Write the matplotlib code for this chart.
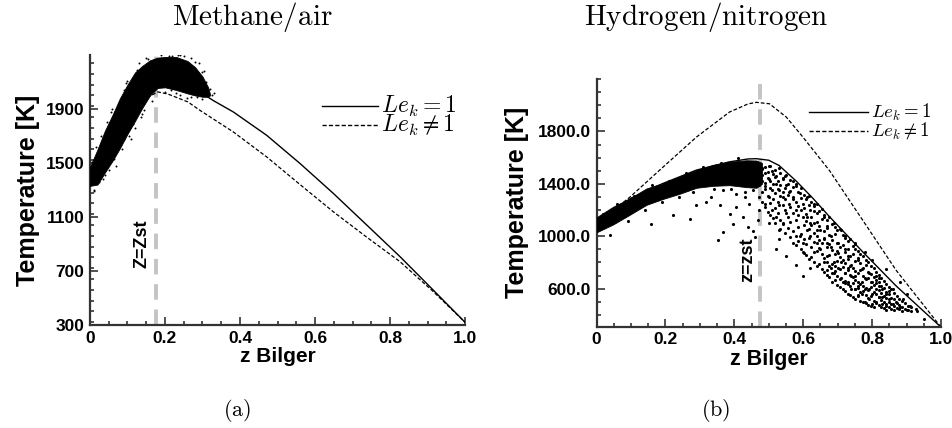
import numpy as np
import matplotlib
matplotlib.use("Agg")
import matplotlib.pyplot as plt
from matplotlib.lines import Line2D
from matplotlib.ticker import MultipleLocator

plt.rcParams['font.family'] = ['Liberation Sans', 'DejaVu Sans']
plt.rcParams['mathtext.fontset'] = 'cm'

# ---------------- methane/air data ----------------
ch4_z_le1 = [0.0, 0.05, 0.10, 0.15, 0.19, 0.22, 0.26, 0.293, 0.33, 0.382, 0.471, 0.56, 0.649, 0.738, 0.827, 0.915, 1.0]
ch4_T_le1 = [1400, 1640, 1870, 2060, 2140, 2150, 2110, 2026, 1960, 1878, 1705, 1496, 1274, 1040, 805, 559, 320]
ch4_z_le = [0.0, 0.05, 0.10, 0.15, 0.181, 0.208, 0.261, 0.293, 0.382, 0.471, 0.56, 0.649, 0.738, 0.827, 0.915, 1.0]
ch4_T_le = [1400, 1620, 1830, 1980, 2026, 2010, 1952, 1890, 1730, 1545, 1340, 1138, 950, 768, 548, 320]

# scatter band edges
ch4_band_z = [0.0, 0.02, 0.04, 0.06, 0.08, 0.10, 0.12, 0.14, 0.16, 0.18, 0.20, 0.23, 0.26, 0.28, 0.30, 0.315, 0.32]
ch4_band_lo = [1330, 1340, 1430, 1515, 1610, 1715, 1810, 1910, 2000, 2055, 2060, 2040, 2015, 2000, 1990, 1990, 2000]
ch4_band_hi = [1470, 1600, 1740, 1855, 1980, 2080, 2170, 2220, 2260, 2280, 2285, 2285, 2255, 2210, 2140, 2060, 2010]
ch4_dots_z = [0.03, 0.06, 0.09, 0.11, 0.13, 0.15, 0.24, 0.27, 0.29, 0.31, 0.30, 0.24, 0.27, 0.20, 0.05, 0.07,
              0.12, 0.14, 0.02, 0.01, 0.035, 0.19, 0.22, 0.25, 0.28, 0.17, 0.33, 0.32, 0.045, 0.085,
              0.015, 0.025, 0.055, 0.075, 0.095, 0.105, 0.125, 0.145, 0.165, 0.215, 0.235, 0.255, 0.285, 0.305,
              0.31, 0.325, 0.10, 0.065, 0.115, 0.135, 0.155, 0.005, 0.012, 0.04, 0.09, 0.26, 0.30, 0.23, 0.21]
ch4_dots_T = [1700, 1900, 2040, 1680, 2240, 2275, 2300, 2275, 2240, 2100, 2170, 2000, 1985, 2025, 1450, 1480,
              1760, 1860, 1550, 1300, 1380, 2300, 2295, 2290, 2250, 2040, 2020, 2050, 1800, 1600,
              1620, 1360, 1880, 1620, 2090, 1700, 2190, 1890, 1960, 2040, 2300, 2030, 1990, 2180,
              2050, 2000, 2110, 1530, 1790, 1840, 2270, 1510, 1290, 1410, 1680, 1980, 1975, 2020, 2290]

# ---------------- hydrogen/nitrogen data ----------------
h2_z_le1 = [0.0, 0.05, 0.10, 0.19, 0.29, 0.386, 0.44, 0.464, 0.50, 0.53, 0.58, 0.628, 0.676, 0.773, 0.87, 1.0]
h2_T_le1 = [1090, 1200, 1290, 1400, 1505, 1568, 1590, 1592, 1580, 1540, 1420, 1290, 1150, 880, 620, 306]
h2_z_le = [0.0, 0.048, 0.097, 0.193, 0.29, 0.386, 0.44, 0.464, 0.502, 0.551, 0.599, 0.676, 0.773, 0.87, 1.0]
h2_T_le = [1095, 1197, 1299, 1528, 1757, 1948, 2010, 2022, 2011, 1909, 1757, 1502, 1121, 739, 306]

h2_band_z = [0.0, 0.048, 0.097, 0.145, 0.193, 0.242, 0.29, 0.338, 0.386, 0.435, 0.464, 0.48]
h2_band_lo = [1030, 1090, 1165, 1240, 1285, 1325, 1370, 1385, 1390, 1375, 1370, 1400]
h2_band_hi = [1145, 1225, 1290, 1365, 1405, 1455, 1505, 1545, 1568, 1580, 1578, 1560]

# cloud past z_st, read column by column
h2_col_z = [0.472, 0.481, 0.489, 0.497, 0.504, 0.512, 0.519, 0.527, 0.533, 0.541, 0.548, 0.556, 0.563,
            0.571, 0.578, 0.586, 0.593, 0.601, 0.608, 0.616, 0.623, 0.631, 0.639, 0.646, 0.654, 0.661,
            0.669, 0.676, 0.684, 0.691, 0.699, 0.706, 0.714, 0.721, 0.729, 0.736, 0.744, 0.751, 0.759,
            0.766, 0.774, 0.781, 0.789, 0.796, 0.804, 0.811, 0.819, 0.826, 0.834, 0.841, 0.849, 0.856,
            0.864, 0.871, 0.879, 0.887, 0.896, 0.905, 0.914, 0.926]
h2_col_T = [
    [1545, 1432, 1388, 1296], [1512, 1467, 1340, 1262], [1528, 1405, 1358, 1225],
    [1490, 1446, 1310, 1188], [1538, 1418, 1372, 1251, 1163], [1473, 1396, 1283, 1140],
    [1507, 1452, 1331, 1214, 1098], [1421, 1359, 1262, 1175], [1486, 1390, 1305, 1126, 1052],
    [1443, 1337, 1238, 1092], [1461, 1372, 1284, 1197, 1025], [1402, 1316, 1150, 1066],
    [1428, 1349, 1226, 1108, 996], [1375, 1288, 1181, 1040], [1398, 1262, 1127, 1003, 935],
    [1341, 1233, 1160, 1071, 962], [1365, 1290, 1198, 1014, 903], [1312, 1215, 1089, 976, 870],
    [1286, 1172, 1120, 941, 854], [1304, 1241, 1055, 990, 826], [1258, 1148, 1087, 921, 845],
    [1231, 1196, 1026, 958, 801], [1245, 1112, 1004, 887, 772], [1192, 1079, 972, 910, 790],
    [1207, 1135, 947, 862, 748], [1166, 1041, 990, 833, 725], [1123, 1062, 918, 807, 741, 701],
    [1145, 1008, 941, 855, 774, 688], [1094, 975, 896, 792, 716, 652], [1071, 1017, 863, 771, 735, 669],
    [1046, 952, 884, 808, 699, 631], [1058, 917, 840, 753, 676, 612], [1012, 934, 819, 765, 648, 598],
    [989, 881, 797, 720, 661, 579], [961, 902, 828, 742, 634, 562], [978, 849, 776, 701, 617, 551],
    [925, 866, 758, 688, 642, 538], [942, 812, 733, 667, 596, 524], [891, 835, 717, 651, 608, 545],
    [866, 794, 746, 633, 571, 507], [847, 760, 694, 622, 583, 499], [819, 778, 671, 604, 552, 488],
    [802, 731, 685, 590, 531, 476], [771, 715, 652, 613, 547, 468], [756, 689, 627, 573, 509, 461],
    [728, 663, 641, 556, 494], [703, 649, 588, 537, 472], [684, 618, 569, 515, 458],
    [659, 602, 543, 497, 449], [638, 577, 528, 481, 441], [611, 556, 502, 463],
    [594, 531, 486, 447], [566, 518, 471, 438], [548, 494, 456], [521, 477, 443],
    [503, 462, 432], [488, 446], [471, 437], [458, 429], [447]]

h2_dots_z = [
    0.159, 0.222, 0.271, 0.353, 0.367, 0.319, 0.333, 0.357, 0.386, 0.396, 0.406, 0.425, 0.44, 0.454, 0.444,
    0.454, 0.43, 0.406, 0.29, 0.367, 0.459, 0.469, 0.473,
    0.48, 0.49, 0.50, 0.50, 0.51, 0.52, 0.52, 0.53, 0.53, 0.54, 0.54, 0.55, 0.55, 0.56, 0.56, 0.57, 0.57, 0.58,
    0.58, 0.49, 0.50, 0.51, 0.48, 0.47, 0.49, 0.51, 0.52, 0.53, 0.54, 0.55, 0.50, 0.53,
    0.52, 0.55, 0.58, 0.60, 0.57, 0.62, 0.53, 0.60,
    0.59, 0.60, 0.60, 0.61, 0.61, 0.62, 0.62, 0.63, 0.63, 0.64, 0.64, 0.65, 0.65, 0.66, 0.66, 0.67, 0.67, 0.68,
    0.68, 0.69, 0.69, 0.70, 0.70, 0.71, 0.59, 0.60, 0.62, 0.63, 0.66, 0.61, 0.64, 0.67,
    0.71, 0.72, 0.72, 0.73, 0.73, 0.74, 0.74, 0.75, 0.75, 0.76, 0.76, 0.77, 0.77, 0.78, 0.78, 0.79, 0.79, 0.80,
    0.80, 0.81, 0.81, 0.82, 0.82, 0.83, 0.83, 0.84, 0.84, 0.85, 0.86, 0.86, 0.87, 0.88, 0.89, 0.90, 0.91, 0.93,
    0.95, 0.70, 0.72, 0.74, 0.76, 0.78, 0.80, 0.82, 0.75, 0.77, 0.79, 0.81, 0.83, 0.85, 0.73, 0.71, 0.69, 0.68,
    0.72, 0.75, 0.78, 0.80, 0.84, 0.88, 0.90,
    0.02, 0.06, 0.11, 0.16, 0.21, 0.26, 0.31, 0.36, 0.41, 0.04, 0.09, 0.14, 0.19, 0.24, 0.28, 0.34, 0.39, 0.43]
h2_dots_T = [
    1095, 1159, 1133, 968, 1032, 1260, 1299, 1235, 1171, 1095, 1222, 1146, 1070, 1044, 1248,
    1350, 1299, 1324, 1235, 1350, 993, 1121, 1197,
    1520, 1480, 1540, 1440, 1500, 1460, 1400, 1520, 1350, 1440, 1300, 1470, 1390, 1340, 1250, 1420, 1300, 1380,
    1200, 1380, 1300, 1350, 1420, 1460, 1250, 1200, 1150, 1240, 1100, 1180, 1100, 1050,
    900, 850, 780, 700, 950, 760, 980, 880,
    1330, 1250, 1150, 1300, 1050, 1200, 1000, 1250, 1100, 950, 1180, 1050, 900, 1150, 980, 1080, 850, 1000,
    920, 1100, 800, 950, 870, 1050, 1000, 950, 1100, 880, 800, 1150, 1050, 950,
    800, 900, 720, 850, 650, 780, 600, 900, 700, 820, 620, 750, 560, 680, 600, 720, 520, 650,
    560, 600, 500, 680, 540, 600, 480, 560, 470, 520, 480, 600, 500, 460, 520, 440, 470, 430,
    370, 760, 640, 700, 550, 500, 480, 620, 600, 650, 600, 700, 540, 580, 760, 680, 720, 760,
    1000, 950, 880, 820, 750, 650, 560,
    1170, 1250, 1310, 1390, 1420, 1480, 1530, 1560, 1595, 1010, 1120, 1200, 1260, 1300, 1340, 1360, 1360, 1340]

zst_ch4 = 0.175
zst_h2 = 0.475

# expand the column table into point lists
cloud_z, cloud_T = [], []
for zc, Ts in zip(h2_col_z, h2_col_T):
    for t in Ts:
        cloud_z.append(zc)
        cloud_T.append(t)

fig = plt.figure(figsize=(9.52, 4.28), dpi=100)
axL = fig.add_axes([0.0945, 0.2407, 0.394, 0.631])
axR = fig.add_axes([0.6266, 0.2367, 0.3619, 0.5787])

spine_c = '#333333'

def style(ax, xfs, yfs):
    for s in ['top', 'right']:
        ax.spines[s].set_visible(False)
    for s in ['left', 'bottom']:
        ax.spines[s].set_linewidth(1.6)
        ax.spines[s].set_color(spine_c)
    ax.tick_params(which='both', direction='in', color=spine_c, width=1.2)
    ax.tick_params(which='major', length=6, labelsize=12.5, pad=4)
    ax.tick_params(which='minor', length=3)
    for lab in ax.get_xticklabels() + ax.get_yticklabels():
        lab.set_fontweight('bold')
    ax.set_xlabel('z Bilger', fontsize=xfs, fontweight='bold', labelpad=1)
    ax.set_ylabel('Temperature [K]', fontsize=yfs, fontweight='bold')

def key(x0, x1, y, ls, label, fs):
    # legend row drawn in figure pixels
    fig.add_artist(Line2D([x0 / 952, x1 / 952], [1 - y / 428, 1 - y / 428], color='k', lw=1.0, ls=ls))
    fig.text((x1 + 3) / 952, 1 - y / 428, label, ha='left', va='center', fontsize=fs)

# ---- left panel ----
axL.set_xlim(0, 1.0)
axL.set_ylim(300, 2300)
axL.axvline(zst_ch4, color='#c4c4c4', lw=2.8, ls=(0, (4, 2.5)), zorder=1)
axL.plot(ch4_z_le1, ch4_T_le1, color='k', lw=1.0, zorder=2)
axL.plot(ch4_z_le, ch4_T_le, color='k', lw=0.9, ls=(0, (3, 1.6)), zorder=2)
axL.fill_between(ch4_band_z, ch4_band_lo, ch4_band_hi, color='k', lw=0.6, zorder=3)
axL.scatter(ch4_dots_z, ch4_dots_T, s=2, color='k', lw=0, zorder=3)
axL.set_xticks([0, 0.2, 0.4, 0.6, 0.8, 1.0])
axL.set_xticklabels(['0', '0.2', '0.4', '0.6', '0.8', '1.0'])
axL.set_yticks([300, 700, 1100, 1500, 1900])
axL.xaxis.set_minor_locator(MultipleLocator(0.05))
axL.yaxis.set_minor_locator(MultipleLocator(80))
axL.text(0.138, 900, 'Z=Zst', rotation=90, ha='center', va='center', fontsize=13, fontweight='bold')
style(axL, 15, 18)
axL.yaxis.labelpad = 4
key(322, 378, 106, '-', r'$Le_k = 1$', 17)
key(322, 378, 125, (0, (3, 1.6)), r'$Le_k \neq 1$', 17)

# ---- right panel ----
axR.set_xlim(0, 1.0)
axR.set_ylim(310, 2200)
axR.axvline(zst_h2, color='#c4c4c4', lw=2.8, ls=(0, (4, 2.5)), zorder=1)
axR.plot(h2_z_le1, h2_T_le1, color='k', lw=1.0, zorder=2)
axR.plot(h2_z_le, h2_T_le, color='k', lw=0.9, ls=(0, (3, 1.6)), zorder=2)
axR.fill_between(h2_band_z, h2_band_lo, h2_band_hi, color='k', lw=0.6, zorder=3)
axR.scatter(cloud_z, cloud_T, s=5, color='k', lw=0, zorder=3)
axR.scatter(h2_dots_z, h2_dots_T, s=5, color='k', lw=0, zorder=3)
axR.set_xticks([0, 0.2, 0.4, 0.6, 0.8, 1.0])
axR.set_xticklabels(['0', '0.2', '0.4', '0.6', '0.8', '1.0'])
axR.set_yticks([600, 1000, 1400, 1800])
axR.set_yticklabels(['600.0', '1000.0', '1400.0', '1800.0'])
axR.xaxis.set_minor_locator(MultipleLocator(0.05))
axR.yaxis.set_minor_locator(MultipleLocator(100))
axR.text(0.439, 822, 'z=zst', rotation=90, ha='center', va='center', fontsize=13, fontweight='bold')
style(axR, 15.5, 18)
axR.yaxis.labelpad = 6.5
key(809, 868, 112, '-', r'$Le_k = 1$', 13.5)
key(809, 868, 131, (0, (3, 1.6)), r'$Le_k \neq 1$', 13.5)

fig.text(252 / 952, 1 - 17 / 428, r'$\mathrm{Methane/air}$', ha='center', va='center', fontsize=21)
fig.text(706 / 952, 1 - 17 / 428, r'$\mathrm{Hydrogen/nitrogen}$', ha='center', va='center', fontsize=21)
fig.text(237 / 952, 1 - 410 / 428, r'$\mathrm{(a)}$', ha='center', va='center', fontsize=16)
fig.text(716 / 952, 1 - 410 / 428, r'$\mathrm{(b)}$', ha='center', va='center', fontsize=16)

fig.savefig('out.png', dpi=100)
